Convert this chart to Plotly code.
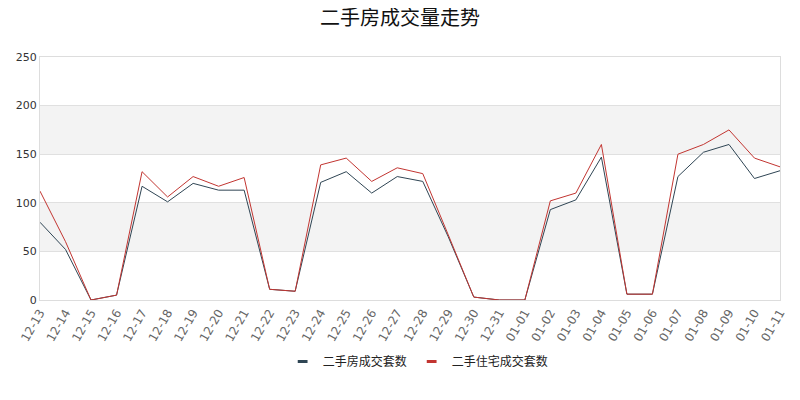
import plotly.graph_objects as go

dates = ["12-13", "12-14", "12-15", "12-16", "12-17", "12-18", "12-19", "12-20", "12-21", "12-22",
         "12-23", "12-24", "12-25", "12-26", "12-27", "12-28", "12-29", "12-30", "12-31", "01-01",
         "01-02", "01-03", "01-04", "01-05", "01-06", "01-07", "01-08", "01-09", "01-10", "01-11"]
house = [80, 52, 0, 5, 117, 101, 120, 113, 113, 11,
         9, 121, 132, 110, 127, 122, 65, 3, 0, 0,
         93, 103, 147, 6, 6, 127, 152, 160, 125, 133]
residence = [112, 60, 0, 5, 132, 106, 127, 117, 126, 11,
             9, 139, 146, 122, 136, 130, 67, 3, 0, 0,
             102, 110, 160, 6, 6, 150, 160, 175, 146, 137]
series_names = ["二手房成交套数", "二手住宅成交套数"]
colors = ["#2f4554", "#c23531"]

font_family = "Noto Sans CJK SC, Noto Sans, sans-serif"
xs = list(range(len(dates)))

fig = go.Figure()
for name, vals, col in zip(series_names, [house, residence], colors):
    fig.add_trace(go.Scatter(x=xs, y=vals, mode="lines", name=name, showlegend=False,
                             line=dict(color=col, width=1)))
# legend-only entries with short thick dash icons
for name, col in zip(series_names, colors):
    fig.add_trace(go.Scatter(x=[None], y=[None], mode="markers", name=name,
                             marker=dict(symbol="line-ew", size=7, line=dict(color=col, width=3))))

for lo, hi in [(50, 100), (150, 200)]:
    fig.add_shape(type="rect", xref="paper", yref="y", x0=0, x1=1, y0=lo, y1=hi,
                  fillcolor="#f3f3f3", line=dict(width=0), layer="below")

# page has an 8px body offset; margins compensate
fig.update_layout(
    width=800, height=400,
    margin=dict(l=32, r=28, t=49, b=108),
    paper_bgcolor="white", plot_bgcolor="white",
    title=dict(text="二手房成交量走势", x=392 / 800, xanchor="center", y=1 - 3 / 400, yanchor="top",
               font=dict(family=font_family, size=20, color="#111")),
    font=dict(family=font_family),
    legend=dict(orientation="h", x=0.511, xanchor="center", y=-0.193, yanchor="top",
                font=dict(size=12, color="#222"), itemwidth=30),
    showlegend=True,
)
fig.update_xaxes(
    tickmode="array", tickvals=xs, ticktext=dates,
    range=[0, len(dates) - 1], tickangle=-60, automargin=False,
    tickfont=dict(size=12, color="#666", family="DejaVu Sans, sans-serif"),
    showgrid=False, showline=True, linecolor="#ddd", mirror=True, zeroline=False,
    ticks="", ticklen=0,
)
fig.update_yaxes(
    range=[0, 250], tickvals=[0, 50, 100, 150, 200, 250], automargin=False,
    tickfont=dict(size=11, color="#333", family="DejaVu Sans, sans-serif"),
    showgrid=True, gridcolor="#e0e0e0", showline=True, linecolor="#ddd", mirror=True,
    zeroline=False, ticks="",
)

fig.write_html("out.html")
